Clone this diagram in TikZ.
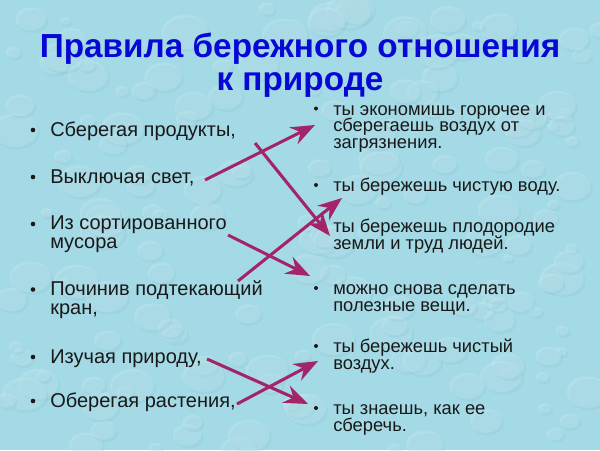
\documentclass[tikz,border=0pt]{standalone}
\usepackage{fontspec}
\setmainfont{Liberation Sans}
\usetikzlibrary{calc, positioning, arrows.meta}
\definecolor{water}{RGB}{164,218,229}
\definecolor{waterlight}{RGB}{212,240,246}
\definecolor{waterdark}{RGB}{112,180,198}
\definecolor{titleblue}{RGB}{8,8,214}
\definecolor{berry}{RGB}{163,36,104}
\definecolor{ink}{RGB}{25,25,25}
\newcommand\tightlines{\lineskiplimit=-20pt\relax}

\begin{document}
\begin{tikzpicture}[x=0.75pt, y=-0.75pt, >={Stealth[length=18pt, width=14pt, inset=6pt]},
    lefttext/.style={anchor=base west, align=left, inner sep=0pt, text=ink,
      font=\fontsize{15}{13.9}\selectfont\tightlines},
    righttext/.style={anchor=base west, align=left, inner sep=0pt, text=ink,
      font=\fontsize{13.75}{12.5}\selectfont\tightlines},
    link/.style={->, berry, line width=2.3pt}]
  % Background water drops
  \useasboundingbox (0,0) rectangle (600,450);
  \fill[water] (0,0) rectangle (600,450);
  \pgfmathsetseed{17}
  \foreach \i in {1,...,170} {
    \pgfmathsetmacro{\dx}{rnd*600}
    \pgfmathsetmacro{\dy}{rnd*450}
    \pgfmathsetmacro{\dr}{5+rnd*18}
    \fill[waterdark, opacity=0.14] (\dx+2,\dy+2.5) ellipse ({\dr} and {0.75*\dr});
    \fill[waterlight, opacity=0.24] (\dx,\dy) ellipse ({\dr} and {0.75*\dr});
  }

  % Title
  \node[titleblue, font=\fontsize{25}{24.5}\selectfont\bfseries, align=center] (title) at (300,65)
    {Правила бережного отношения\\к природе};

  % Left column (base = last line)
  \node[lefttext] (l1) at (50,136) {Сберегая продукты,};
  \node[lefttext] (l2) at (50,183) {Выключая свет,};
  \node[lefttext] (l3) at (50,248.5) {Из сортированного\\мусора};
  \node[lefttext] (l4) at (50,314) {Починив подтекающий\\кран,};
  \node[lefttext] (l5) at (50,363) {Изучая природу,};
  \node[lefttext] (l6) at (50,407) {Оберегая растения,};
  \foreach \y in {136,183,230,295.5,363,407}
    \fill[ink] (33,\y-6) circle (2.3);

  % Right column (base = last line)
  \node[righttext] (r1) at (333,148.4) {ты экономишь горючее и\\сберегаешь воздух от\\загрязнения.};
  \node[righttext] (r2) at (333,191.5) {ты бережешь чистую воду.};
  \node[righttext] (r3) at (333,249.2) {ты бережешь плодородие\\земли и труд людей.};
  \node[righttext] (r4) at (333,311.2) {можно снова сделать\\полезные вещи.};
  \node[righttext] (r5) at (333,369.2) {ты бережешь чистый\\воздух.};
  \node[righttext] (r6) at (333,431.2) {ты знаешь, как ее\\сберечь.};
  \foreach \y in {115,191.5,232.5,294.5,352.5,414.5}
    \fill[ink] (316,\y-6.5) circle (2);

  % Arrow ends
  \coordinate (a1) at (205,180);   \coordinate (b1) at (315,125);
  \coordinate (a2) at (255,143);   \coordinate (b2) at (330,236);
  \coordinate (a3) at (228,235);   \coordinate (b3) at (310,276);
  \coordinate (a4) at (238,281);   \coordinate (b4) at (342,198);
  \coordinate (a5) at (207,359);   \coordinate (b5) at (308,404);
  \coordinate (a6) at (237,404);   \coordinate (b6) at (318,361);

  % Matching arrows
  \draw[link] (a1) -- (b1);
  \draw[link] (a2) -- (b2);
  \draw[link] (a3) -- (b3);
  \draw[link] (a4) -- (b4);
  \draw[link] (a5) -- (b5);
  \draw[link] (a6) -- (b6);
\end{tikzpicture}
\end{document}
